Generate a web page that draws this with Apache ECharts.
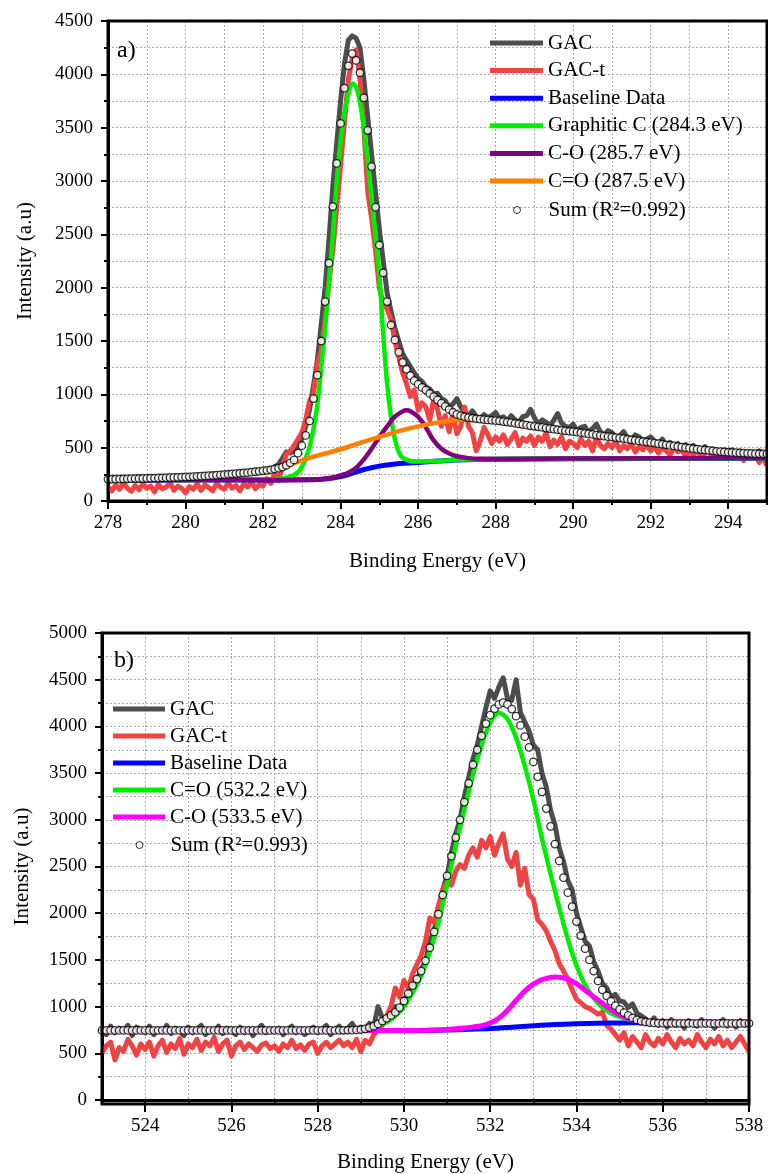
<!DOCTYPE html>
<html><head><meta charset="utf-8">
<script src="https://cdn.jsdelivr.net/npm/echarts@6/dist/echarts.min.js"></script>
<style>html,body{margin:0;padding:0;background:#fff}#c{width:768px;height:1174px}</style>
</head><body><div id="c"></div><script>
// ---------------- Panel a (C 1s) ----------------
const A_E0 = 278, A_STEP = 0.1;
const A_GAC = [
205,198,214,202,219,196,210,222,200,215,
208,225,203,218,212,229,206,224,215,230,
220,234,222,241,228,245,230,250,236,252,
244,262,248,266,255,272,258,281,268,285,
278,300,286,320,345,400,460,450,470,520,
580,700,860,1080,1320,1650,2000,2450,2950,3350,
3750,4100,4320,4360,4340,4250,3950,3600,3250,2900,
2550,2250,1950,1780,1620,1500,1380,1320,1260,1200,
1150,1120,1070,1050,1000,1010,960,940,880,910,
960,880,830,800,845,790,770,810,780,800,
830,770,790,750,800,760,740,790,800,860,
780,720,760,740,700,760,820,730,700,690,
720,660,690,700,640,680,720,650,620,660,
640,600,610,650,590,570,620,600,560,580,
600,560,540,580,520,550,510,540,500,530,
500,520,480,470,510,460,490,470,450,480,
460,480,440,470,450,430,460,440,470,450,
440];
const A_GACT = [
130,95,150,110,170,120,90,145,105,160,
120,140,85,155,115,130,170,100,140,120,
75,135,110,160,100,150,125,95,165,130,
110,170,120,145,95,160,130,180,115,155,
140,210,165,260,190,320,440,470,520,580,
640,760,940,1000,1280,1420,1700,2050,2350,2750,
3150,3550,3950,4150,4230,3950,3500,2900,2650,2350,
2000,1850,1800,1700,1500,1350,1200,1100,980,1040,
850,920,880,760,950,860,700,800,650,820,
630,700,880,700,640,470,560,690,620,540,
600,560,620,530,580,640,520,590,560,610,
520,600,560,640,510,570,530,600,490,560,
540,500,580,520,560,470,600,520,490,540,
500,560,470,520,490,540,460,510,480,530,
470,510,450,500,470,430,500,460,480,420,
460,430,480,410,450,470,400,440,460,420,
440,400,460,420,380,450,410,430,360,420,
330];
const A_SUM = [
203,204,205,206,207,208,209,210,211,212,
213,214,215,216,217,219,220,221,222,224,
226,227,229,231,233,235,237,239,242,245,
248,251,254,257,260,263,266,270,274,278,
283,288,293,300,308,318,335,358,385,448,
519,615,750,960,1180,1500,1870,2230,2760,3165,
3540,3870,4080,4195,4130,4015,3780,3475,3135,2755,
2400,2140,1870,1650,1510,1395,1300,1235,1175,1128,
1095,1065,1040,1008,978,948,918,888,858,832,
812,800,790,782,776,771,767,763,760,757,
754,750,745,740,735,729,723,717,711,705,
700,695,690,684,679,673,668,663,658,654,
650,645,640,634,629,624,618,613,608,603,
600,595,590,585,579,574,568,563,558,553,
548,543,537,532,527,521,516,510,505,500,
495,490,486,482,478,474,470,466,463,460,
457,455,453,451,449,447,446,444,443,442,
441];
const A_BASE_E = [278,280,282,283,283.5,283.8,284,284.2,284.4,284.6,284.8,285,285.3,285.6,286,286.5,287,288,290,292,295];
const A_BASE_V = [195,196,197,199,205,215,228,248,272,295,312,327,342,353,362,374,384,392,396,398,400];
const A_GRAPH_E = [278,282,282.5,282.7,282.9,283.0,283.1,283.2,283.3,283.4,283.5,283.6,283.7,283.8,283.9,284.0,284.1,284.2,284.3,284.4,284.5,284.6,284.7,284.8,284.9,285.0,285.1,285.2,285.3,285.4,285.5,285.6,285.8,286.0,286.5,287,288,290,295];
const A_GRAPH_V = [196,200,212,228,270,320,400,509,680,900,1250,1620,2060,2500,3000,3380,3640,3820,3915,3880,3740,3500,3180,2840,2500,2120,1560,1100,790,580,460,405,375,370,376,386,393,397,400];
const A_CO_E = [278,283,283.5,283.8,284.0,284.2,284.4,284.6,284.8,285.0,285.2,285.4,285.6,285.7,285.8,286.0,286.2,286.4,286.6,286.8,287.0,287.3,287.6,288,290,295];
const A_CO_V = [196,198,205,220,240,265,310,390,490,600,700,790,840,850,842,790,690,568,490,445,420,402,395,394,398,402];
const A_CDO_E = [278,279,280,281,282,282.4,282.8,283.3,283.6,284.0,284.5,285.0,285.5,286.0,286.5,287.0,287.3,287.6,288,289,290,291,292,293,294,295];
const A_CDO_V = [203,213,226,248,283,315,355,416,445,485,545,600,655,700,735,760,768,766,754,700,650,600,548,495,457,441];

// ---------------- Panel b (O 1s) ----------------
const B_E0 = 523, B_STEP = 0.1;
const B_GAC = [
760,700,790,720,770,740,800,690,780,750,
720,790,700,760,730,800,710,770,740,690,
780,720,760,800,700,750,730,790,710,770,
740,700,780,720,760,690,750,800,720,760,
730,770,700,750,790,720,760,700,740,780,
720,760,800,700,750,790,730,770,820,740,
780,760,820,790,1000,880,860,900,1000,960,
1080,1120,1250,1280,1400,1480,1700,1820,2000,2250,
2400,2650,2850,3000,3250,3450,3650,3800,4000,4200,
4380,4300,4420,4520,4300,4280,4500,4150,4050,3950,
3800,3750,3500,3350,3100,2950,2700,2550,2350,2250,
2000,1850,1700,1650,1480,1380,1250,1200,1100,1130,
1060,1050,990,1030,930,900,870,820,880,800,
850,780,860,800,830,770,850,810,790,860,
800,840,770,820,860,790,830,780,850,800,
820];
const B_GACT = [
500,580,620,430,560,520,650,580,480,600,
540,620,470,580,640,510,600,550,660,490,
600,560,650,530,620,580,670,520,600,640,
470,580,620,540,600,560,520,590,610,550,
580,520,600,560,640,550,590,530,600,620,
500,580,620,560,600,640,580,620,560,650,
520,640,600,700,760,800,900,1000,1200,1100,
1280,1200,1350,1450,1550,1700,1950,1900,2080,2250,
2330,2300,2450,2520,2480,2620,2700,2600,2780,2700,
2820,2620,2750,2850,2580,2500,2650,2300,2480,2200,
2150,1930,1880,1810,1700,1600,1460,1380,1290,1180,
1080,1040,1000,980,950,920,940,800,760,700,
640,720,580,680,620,560,700,620,580,660,
600,700,620,560,660,600,640,580,700,620,
560,650,600,680,580,640,560,620,680,600,
520];
const B_SUM = [
745,745,745,745,745,745,745,745,745,745,
745,745,745,745,745,745,745,745,745,745,
745,745,745,745,745,745,745,745,745,745,
745,745,745,745,745,745,745,745,745,745,
745,745,745,745,745,745,745,745,745,745,
745,745,745,745,745,746,746,747,748,750,
755,762,775,790,815,845,875,905,940,990,
1060,1140,1225,1295,1380,1490,1630,1800,1990,2195,
2400,2610,2810,3000,3190,3390,3590,3750,3900,4030,
4120,4190,4235,4254,4235,4185,4110,4010,3890,3776,
3620,3460,3300,3120,2930,2740,2560,2380,2220,2070,
1910,1760,1620,1500,1380,1274,1180,1115,1058,1010,
970,935,905,878,857,843,835,829,825,823,
822,822,821,821,821,821,820,820,820,820,
820,820,820,820,820,820,820,820,820,820,
820];
const B_BASE_E = [523,530,530.5,531,531.5,532,532.5,533,533.5,534,534.5,535,535.5,536,538];
const B_BASE_V = [742,743,745,750,757,766,780,795,808,816,821,825,828,829,830];
const B_CDO_E = [523,528.5,529.0,529.5,529.8,530.0,530.2,530.4,530.6,530.8,531.0,531.2,531.4,531.6,531.8,532.0,532.2,532.4,532.6,532.8,533.0,533.2,533.4,533.6,533.8,534.0,534.2,534.4,534.6,534.8,535.0,535.4,536,538];
const B_CDO_V = [742,744,752,810,900,1000,1150,1330,1580,1900,2300,2720,3110,3480,3800,4040,4147,4080,3880,3580,3220,2800,2420,2060,1720,1440,1230,1090,990,930,892,845,832,830];
const B_CO_E = [523,530,530.5,531,531.4,531.8,532.0,532.2,532.4,532.6,532.8,533.0,533.2,533.4,533.5,533.6,533.8,534.0,534.2,534.4,534.6,534.8,535.0,535.2,535.4,535.6,535.8,536,538];
const B_CO_V = [743,744,746,755,770,795,825,875,960,1065,1165,1240,1288,1312,1316,1313,1295,1245,1175,1104,1035,968,910,870,850,838,832,830,830];

// ---------------- helpers ----------------
function seq(e0, step, vals){ return vals.map((v,i)=>[+(e0+i*step).toFixed(2), v]); }
function pairs(es, vs){ return es.map((e,i)=>[e, vs[i]]); }

const FONT = '"Liberation Serif","Times New Roman",serif';
const GRIDC = '#a9a9a9';
function dash(){ return {color: GRIDC, type: [2,2], width: 1}; }

const GA = {left:108, top:21, width:659, height:480};
const GB = {left:102, top:633, width:647, height:471};

const grids = [
  GA,
  {left:GA.left, top:GA.top, width:GA.width*16/17, height:GA.height},
  GB,
  {left:GB.left + GB.width/15, top:GB.top, width:GB.width*14/15, height:GB.height}
];

function mainX(gi, min, max){
  return {gridIndex:gi, type:'value', min:min, max:max, interval:1,
    axisLine:{show:true, onZero:false, lineStyle:{color:'#000', width:3}},
    axisTick:{show:true, length:4, lineStyle:{color:'#000', width:2}},
    axisLabel:{show:false},
    splitLine:{show:true, lineStyle:dash()},
    name:'Binding Energy (eV)', nameLocation:'middle', nameGap: gi===0?50:52,
    nameTextStyle:{fontFamily:FONT, fontSize:21, color:'#000'}};
}
function labX(gi, min, max){
  return {gridIndex:gi, type:'value', min:min, max:max, interval:2,
    axisLine:{show:false},
    axisTick:{show:true, length:8, lineStyle:{color:'#000', width:2}},
    axisLabel:{show:true, fontFamily:FONT, fontSize:19, color:'#000', margin:13,
      formatter: v => String(v)},
    splitLine:{show:false}};
}
function mainY(gi, max){
  return {gridIndex:gi, type:'value', min:0, max:max, interval:500,
    axisLine:{show:true, onZero:false, lineStyle:{color:'#000', width:3}},
    axisTick:{show:true, length:7, lineStyle:{color:'#000', width:2}},
    minorTick:{show:true, splitNumber:2, length:4, lineStyle:{color:'#000', width:2}},
    axisLabel:{fontFamily:FONT, fontSize:19, color:'#000', margin:15,
      formatter: v => String(v)},
    splitLine:{show:true, lineStyle:dash()},
    minorSplitLine:{show:true, lineStyle:dash()},
    name:'Intensity (a.u)', nameLocation:'middle', nameGap: gi===0?72:69,
    nameTextStyle:{fontFamily:FONT, fontSize:21, color:'#000'}};
}
function hidY(gi, max){ return {gridIndex:gi, type:'value', min:0, max:max, show:false}; }

function line(name, data, color, width, xi, z, smooth){
  return {type:'line', name:name, data:data, xAxisIndex:xi, yAxisIndex:xi,
    color:color, lineStyle:{color:color, width:width, join:'round'}, symbol:'none',
    smooth: smooth || false, z:z, silent:true};
}
function sum(name, data, xi){
  return {type:'scatter', name:name, data:data, xAxisIndex:xi, yAxisIndex:xi,
    symbol:'circle', symbolSize:7.5, z:10, silent:true,
    itemStyle:{color:'#fff', borderColor:'#000', borderWidth:1.3}};
}

const C_GRAY='#4d4d4d', C_RED='#f04343', C_BLUE='#0000ff', C_GREEN='#00ee00',
      C_PURPLE='#800080', C_ORANGE='#ff8000', C_MAG='#ff00ff';

const SUM_A = 'Sum (R\u00b2=0.992)', SUM_B = 'Sum (R\u00b2=0.993)';

const series = [
  line('GAC', seq(A_E0,A_STEP,A_GAC), C_GRAY, 5, 0, 2),
  line('GAC-t', seq(A_E0,A_STEP,A_GACT), C_RED, 5, 0, 3),
  line('Baseline Data', pairs(A_BASE_E,A_BASE_V), C_BLUE, 5, 0, 4, 0.3),
  line('Graphitic C (284.3 eV)', pairs(A_GRAPH_E,A_GRAPH_V), C_GREEN, 4.5, 0, 5, 0.3),
  line('C-O (285.7 eV)', pairs(A_CO_E,A_CO_V), C_PURPLE, 4.5, 0, 6, 0.3),
  line('C=O (287.5 eV)', pairs(A_CDO_E,A_CDO_V), C_ORANGE, 4.5, 0, 7, 0.3),
  sum(SUM_A, seq(A_E0,A_STEP,A_SUM), 0),

  line('GAC', seq(B_E0,B_STEP,B_GAC), C_GRAY, 5, 2, 2),
  line('GAC-t', seq(B_E0,B_STEP,B_GACT), C_RED, 5, 2, 3),
  line('Baseline Data', pairs(B_BASE_E,B_BASE_V), C_BLUE, 5, 2, 4, 0.3),
  line('C=O (532.2 eV)', pairs(B_CDO_E,B_CDO_V), C_GREEN, 4.5, 2, 5, 0.3),
  line('C-O (533.5 eV)', pairs(B_CO_E,B_CO_V), C_MAG, 5, 2, 6, 0.3),
  sum(SUM_B, seq(B_E0,B_STEP,B_SUM), 2)
];

function legLines(names, left, top, lh, iw){
  return {data:names, left:left, top:top, orient:'vertical', icon:'rect',
    itemWidth:iw, itemHeight:5, itemGap:0, padding:0, selectedMode:false,
    itemStyle:{borderWidth:0},
    textStyle:{fontFamily:FONT, fontSize:21, color:'#000', lineHeight:lh}};
}
function legSum(name, left, top, lh, iw){
  // circle of 7px centred under the line icons, text aligned with them
  return {data:[name], left:left + iw/2 - 3.5, top:top, orient:'vertical', icon:'circle',
    itemWidth:7, itemHeight:7, itemGap:0, padding:0, selectedMode:false,
    itemStyle:{color:'#fff', borderColor:'#000', borderWidth:1},
    textStyle:{fontFamily:FONT, fontSize:21, color:'#000', lineHeight:lh,
      padding:[0,0,0, iw/2 - 3.5]}};
}

const option = {
  animation:false,
  backgroundColor:'#fff',
  grid: grids,
  xAxis: [mainX(0,278,295), labX(1,278,294), mainX(2,523,538), labX(3,524,538)],
  yAxis: [mainY(0,4500), hidY(1,4500), mainY(2,5000), hidY(3,5000)],
  legend: [
    legLines(['GAC','GAC-t','Baseline Data','Graphitic C (284.3 eV)','C-O (285.7 eV)','C=O (287.5 eV)'], 490, 29.2, 27.6, 53),
    legSum(SUM_A, 490, 196.2, 27.6, 53),
    legLines(['GAC','GAC-t','Baseline Data','C=O (532.2 eV)','C-O (533.5 eV)'], 113, 695.5, 27, 52),
    legSum(SUM_B, 113, 831.5, 27, 52)
  ],
  graphic: [
    {type:'rect', z:100, silent:true, shape:{x:GA.left, y:GA.top, width:GA.width, height:GA.height}, style:{fill:'none', stroke:'#000', lineWidth:3}},
    {type:'rect', z:100, silent:true, shape:{x:GB.left, y:GB.top, width:GB.width, height:GB.height}, style:{fill:'none', stroke:'#000', lineWidth:3}},
    {type:'text', z:100, left:117, top:39, style:{text:'a)', font:'24px ' + FONT, fill:'#000'}},
    {type:'text', z:100, left:114, top:649, style:{text:'b)', font:'24px ' + FONT, fill:'#000'}}
  ],
  series: series
};

const chart = echarts.init(document.getElementById('c'), null, {renderer:'canvas'});
chart.setOption(option);
</script></body></html>
